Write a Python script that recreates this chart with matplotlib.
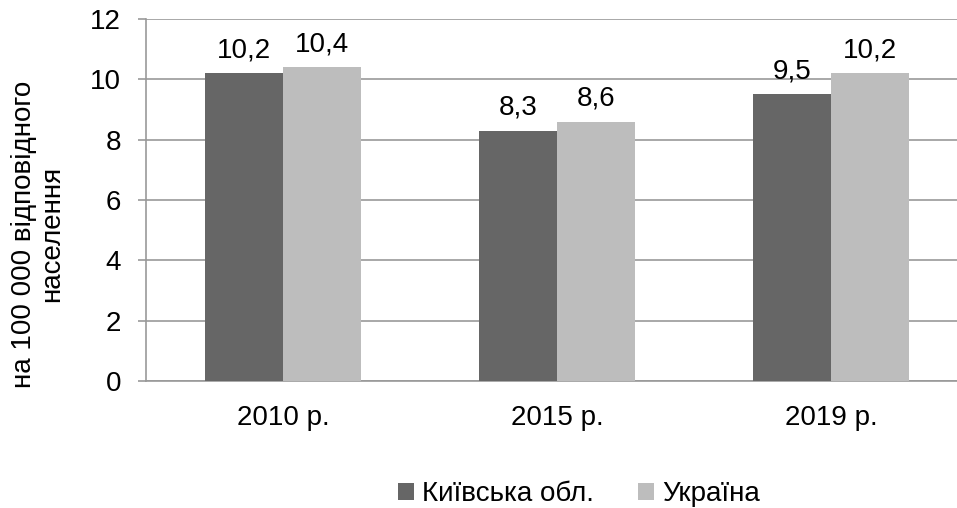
import matplotlib
matplotlib.use("Agg")
import matplotlib.pyplot as plt
import numpy as np

categories = ["2010 р.", "2015 р.", "2019 р."]
kyiv = [10.2, 8.3, 9.5]
ukraine = [10.4, 8.6, 10.2]
labels_kyiv = ["10,2", "8,3", "9,5"]
labels_ukr = ["10,4", "8,6", "10,2"]
series_names = ["Київська обл.", "Україна"]
yticks = [0, 2, 4, 6, 8, 10, 12]

plt.rcParams['font.family'] = ['Liberation Sans', 'DejaVu Sans']
FS = 20

fig = plt.figure(figsize=(9.57, 5.08), dpi=100)
ax = fig.add_axes([146/957, 1-381/508, 822/957, (381-19)/508])

x = np.arange(len(categories))
w = 0.285
b1 = ax.bar(x - w/2, kyiv, w, color='#666666', label=series_names[0], zorder=3)
b2 = ax.bar(x + w/2, ukraine, w, color='#bdbdbd', label=series_names[1], zorder=3)

for rect, lab in zip(b1, labels_kyiv):
    ax.annotate(lab, (rect.get_x() + rect.get_width()/2, rect.get_height()),
                xytext=(0, 7), textcoords='offset points', ha='center', va='bottom', fontsize=FS)
for rect, lab in zip(b2, labels_ukr):
    ax.annotate(lab, (rect.get_x() + rect.get_width()/2, rect.get_height()),
                xytext=(0, 7), textcoords='offset points', ha='center', va='bottom', fontsize=FS)

ax.set_xlim(-0.5, len(categories) - 0.5)
ax.set_ylim(0, 12)
ax.set_yticks(yticks)
ax.set_yticklabels([str(t) for t in yticks], fontsize=FS)
ax.set_xticks(x)
ax.set_xticklabels(categories, fontsize=FS)
ax.tick_params(axis='x', length=0, pad=17)
ax.tick_params(axis='y', length=6, width=1.2, color='#999999', pad=12)

ax.yaxis.grid(True, color='#999999', linewidth=1.2, zorder=0)
ax.set_axisbelow(True)
for s in ['top', 'right']:
    ax.spines[s].set_visible(False)
for s in ['left', 'bottom']:
    ax.spines[s].set_color('#999999')
    ax.spines[s].set_linewidth(1.2)

fig.text(38/957, 1-234/508, "на 100 000 відповідного\nнаселення", rotation=90,
         ha='center', va='center', fontsize=FS, linespacing=1.1)

fig.legend(handles=[b1, b2], labels=series_names, loc='center', bbox_to_anchor=(579/957, 1-494/508),
           ncol=2, frameon=False, fontsize=FS, handlelength=0.55, handleheight=0.55,
           handletextpad=0.3, columnspacing=1.6)

fig.savefig("out.png", dpi=100)
